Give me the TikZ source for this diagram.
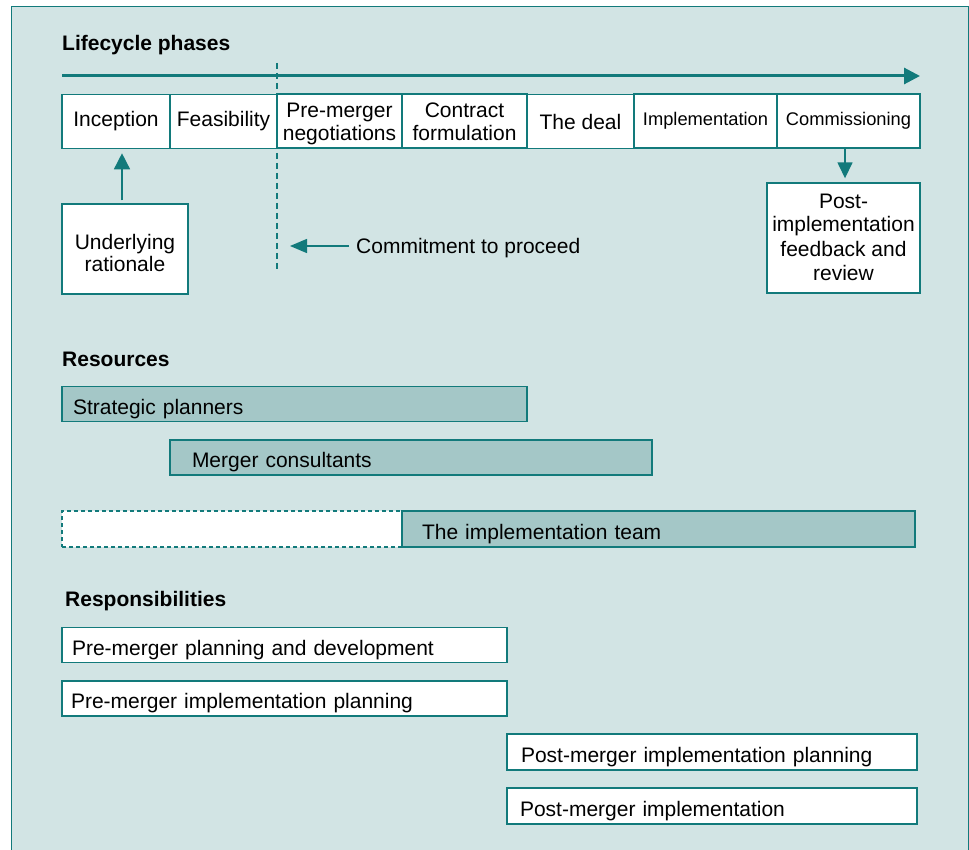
\documentclass[tikz,border=0pt]{standalone}
\usepackage{fontspec}
\setmainfont{Liberation Sans}
\usetikzlibrary{arrows.meta}
\definecolor{tealc}{HTML}{127A7B}
\definecolor{bgc}{HTML}{D2E4E4}
\definecolor{barc}{HTML}{A4C7C7}
\tikzset{
  txt/.style={font=\fontsize{21}{23.5}\selectfont},
  smalltxt/.style={font=\fontsize{18.3}{22}\selectfont},
  head/.style={font=\fontsize{21}{23.5}\selectfont\bfseries, inner sep=0pt, anchor=base west},
  phasebox/.style={draw=tealc, line width=1.6pt, fill=white, minimum height=54pt, inner sep=0pt, align=center, txt},
  twoline/.style={font=\fontsize{21}{22.8}\selectfont, text height=38.6pt, text depth=0pt},
  whitebox/.style={draw=tealc, line width=1.4pt, fill=white, inner sep=0pt, align=center, txt},
  barbox/.style={draw=tealc, line width=1.4pt, fill=barc, minimum height=35pt, inner ysep=0pt, align=left, txt, text height=20.6pt, text depth=0pt},
  respbox/.style={draw=tealc, line width=1.4pt, fill=white, minimum height=35pt, inner ysep=0pt, align=left, txt, text height=20.6pt, text depth=0pt},
  conn/.style={draw=tealc, line width=1.5pt},
}
\begin{document}
\begin{tikzpicture}[x=1pt,y=-1pt]
\useasboundingbox (0,0) rectangle (969,850);
% panel
\fill[bgc, draw=tealc, line width=1pt] (11,7) rectangle (968,870);
% headings
\node[head] (h1) at (62,50.5) {Lifecycle phases};
\node[head] (h2) at (62,366) {Resources};
\node[head] (h3) at (65,606.5) {Responsibilities};
% commitment dashed line
\coordinate (dtop) at (277,63);
\coordinate (dbot) at (277,272);
\draw[tealc, line width=1.2pt, dash pattern=on 6pt off 4pt] (dtop) -- (dbot);
% timeline arrow
\coordinate (tl0) at (62,76);
\coordinate (tl1) at (920,76);
\draw[tealc, line width=3pt, -{Triangle[length=16pt,width=16pt]}] (tl0) -- (tl1);
% phases
\node[phasebox, minimum width=108pt] (inc) at (116,121.5) {Inception};
\node[phasebox, minimum width=107pt] (fea) at (223.5,121.5) {Feasibility};
\node[phasebox, minimum width=125pt, twoline] (pre) at (339.5,121) {Pre-merger\\negotiations};
\node[phasebox, minimum width=125pt, twoline] (con) at (464.5,121) {Contract\\formulation};
\node[phasebox, minimum width=107pt] (deal) at (580.5,121.5) {The deal};
\node[phasebox, minimum width=143pt, smalltxt] (impl) at (705.5,121) {\raisebox{-1.5pt}{Implementation}};
\node[phasebox, minimum width=143pt, smalltxt] (comm) at (848.5,121) {Commissioning};
% side boxes
\node[whitebox, minimum width=126pt, minimum height=90pt, font=\fontsize{21}{22.5}\selectfont, text height=46pt, text depth=0pt] (rat) at (125,249) {Underlying\\rationale};
\node[whitebox, minimum width=153pt, minimum height=110pt, font=\fontsize{21}{24}\selectfont, text height=84pt, text depth=0pt] (post) at (843.5,238) {Post-\\implementation\\feedback and\\review};
% arrows
\coordinate (ax) at (122,0);
\draw[conn, -{Triangle[length=16pt,width=16pt]}, shorten <=3pt, shorten >=4pt] (rat.north -| ax) -- (inc.south -| ax);
\coordinate (bx) at (845,0);
\draw[conn, -{Triangle[length=16pt,width=15pt]}, shorten >=4pt] (comm.south -| bx) -- (post.north -| bx);
\node[txt, inner sep=0pt, anchor=base west] (cmt) at (356,253.5) {Commitment to proceed};
\coordinate (ctip) at (290,246);
\draw[conn, -{Triangle[length=17pt,width=14pt]}, shorten <=7pt] (cmt.west |- ctip) -- (ctip);
% resources
\node[barbox, minimum width=465pt, inner xsep=11pt, text width=443pt] (sp) at (294.5,404) {Strategic planners};
\node[barbox, minimum width=482pt, inner xsep=22pt, text width=438pt] (mc) at (411,457.5) {Merger consultants};
\node[draw=tealc, line width=1.2pt, fill=white, dash pattern=on 4pt off 3pt, minimum width=340pt, minimum height=36pt, inner sep=0pt] (itd) at (232,529) {};
\node[barbox, minimum width=513pt, minimum height=36pt, inner xsep=20pt, text width=473pt] (it) at (658.5,529) {The implementation team};
% responsibilities
\node[respbox, minimum width=445pt, inner xsep=10pt, text width=425pt] (r1) at (284.5,645) {Pre-merger planning and development};
\node[respbox, minimum width=445pt, inner xsep=9pt, text width=427pt] (r2) at (284.5,698.5) {Pre-merger implementation planning};
\node[respbox, minimum width=410pt, minimum height=36pt, inner xsep=14pt, text width=382pt] (r3) at (712,752) {Post-merger implementation planning};
\node[respbox, minimum width=410pt, minimum height=36pt, inner xsep=13pt, text width=384pt] (r4) at (712,806) {Post-merger implementation};
\end{tikzpicture}
\end{document}
